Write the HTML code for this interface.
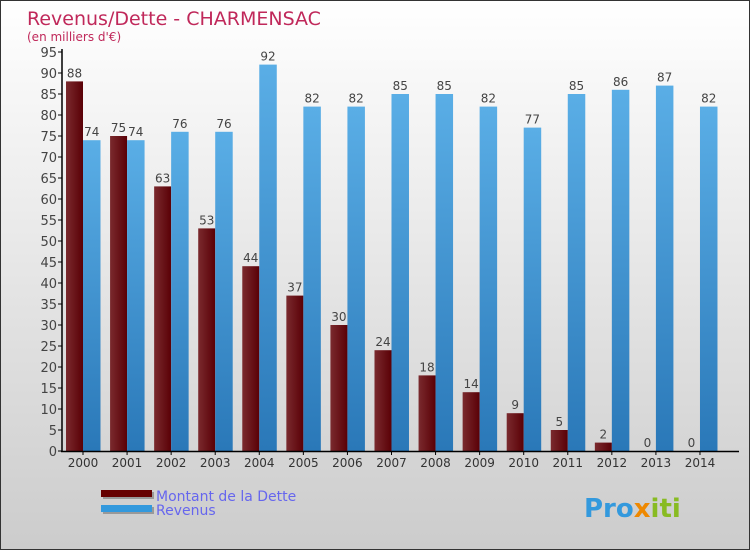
<!DOCTYPE html>
<html><head><meta charset="utf-8"><style>
body{margin:0}
#c{width:750px;height:550px;position:relative;background:linear-gradient(#ffffff,#cccccc);box-sizing:border-box;border:1px solid #333;font-family:"DejaVu Sans","Liberation Sans",sans-serif;overflow:hidden}
</style></head><body>
<div id="c">
<svg id="s" width="750" height="550"></svg>
</div>
<script>
const years=["2000","2001","2002","2003","2004","2005","2006","2007","2008","2009","2010","2011","2012","2013","2014"];
const debt=[88,75,63,53,44,37,30,24,18,14,9,5,2,0,0];
const revenue=[74,74,76,76,92,82,82,85,85,82,77,85,86,87,82];
const ticks=[0,5,10,15,20,25,30,35,40,45,50,55,60,65,70,75,80,85,90,95];
const NS="http://www.w3.org/2000/svg",s=document.getElementById('s');
const y0=450,k=4.2,xs=i=>82+i*44.07;
const y=v=>y0-v*k;
function e(t,a,txt){const n=document.createElementNS(NS,t);for(const q in a)n.setAttribute(q,a[q]);if(txt!=null)n.textContent=txt;s.appendChild(n);return n;}
const defs=e('defs',{});
defs.innerHTML='<linearGradient id="gd" x1="0" x2="1"><stop offset="0" stop-color="#7a2a2e"/><stop offset="1" stop-color="#5a0006"/></linearGradient><linearGradient id="gr" x1="0" x2="0" y1="0" y2="1"><stop offset="0" stop-color="#5aaee6"/><stop offset="1" stop-color="#2a78b8"/></linearGradient>';
let t=e('text',{x:26,y:24,'font-size':19,fill:'#c0285a'},'Revenus/Dette - CHARMENSAC');

t=e('text',{x:26,y:40,'font-size':12,fill:'#c0285a'},'(en milliers d\'€)');

ticks.forEach(v=>{
 const l=e('line',{x1:57,x2:61,y1:y(v),y2:y(v),stroke:'#000'});
 
 const tx=e('text',{x:56,y:y(v)+5,'font-size':13,fill:'#444','text-anchor':'end'},v);
 
});
years.forEach((yr,i)=>{
 const cx=xs(i);
 const b1=e('rect',{x:cx-17,y:y(debt[i]),width:17,height:debt[i]*k,fill:'url(#gd)'});
 
 const b2=e('rect',{x:cx,y:y(revenue[i]),width:17.5,height:revenue[i]*k,fill:'url(#gr)'});
 
 const l1=e('text',{x:cx-8.5,y:y(debt[i])-4,'font-size':12,fill:'#444','text-anchor':'middle'},debt[i]);
 
 const l2=e('text',{x:cx+8.75,y:y(revenue[i])-4,'font-size':12,fill:'#444','text-anchor':'middle'},revenue[i]);
 
 const tk=e('line',{x1:cx,x2:cx,y1:450,y2:454,stroke:'#000'});
 
 const xl=e('text',{x:cx,y:466,'font-size':12,fill:'#333','text-anchor':'middle'},yr);
 
});
let a=e('line',{x1:61,x2:61,y1:48,y2:451,stroke:'#000','stroke-width':1.5});
a=e('line',{x1:60,x2:738,y1:450.5,y2:450.5,stroke:'#000','stroke-width':1.5});
let r=e('rect',{x:102,y:491,width:51,height:7,fill:'#999'});
r=e('rect',{x:100,y:489,width:51,height:7,fill:'#600'});
r=e('rect',{x:102,y:506,width:51,height:7,fill:'#999'});
r=e('rect',{x:100,y:504,width:51,height:7,fill:'#3399dd'});
t=e('text',{x:155,y:500,'font-size':14,fill:'#6666ee'},'Montant de la Dette');
t=e('text',{x:155,y:514,'font-size':14,fill:'#6666ee'},'Revenus');
t=e('text',{x:583,y:516,'font-size':26,'font-weight':'bold',fill:'#3399dd'},'');
t.innerHTML='<tspan fill="#3399dd">Pro</tspan><tspan fill="#ee8800">x</tspan><tspan fill="#88bb22">iti</tspan>';
</script>
</body></html>
